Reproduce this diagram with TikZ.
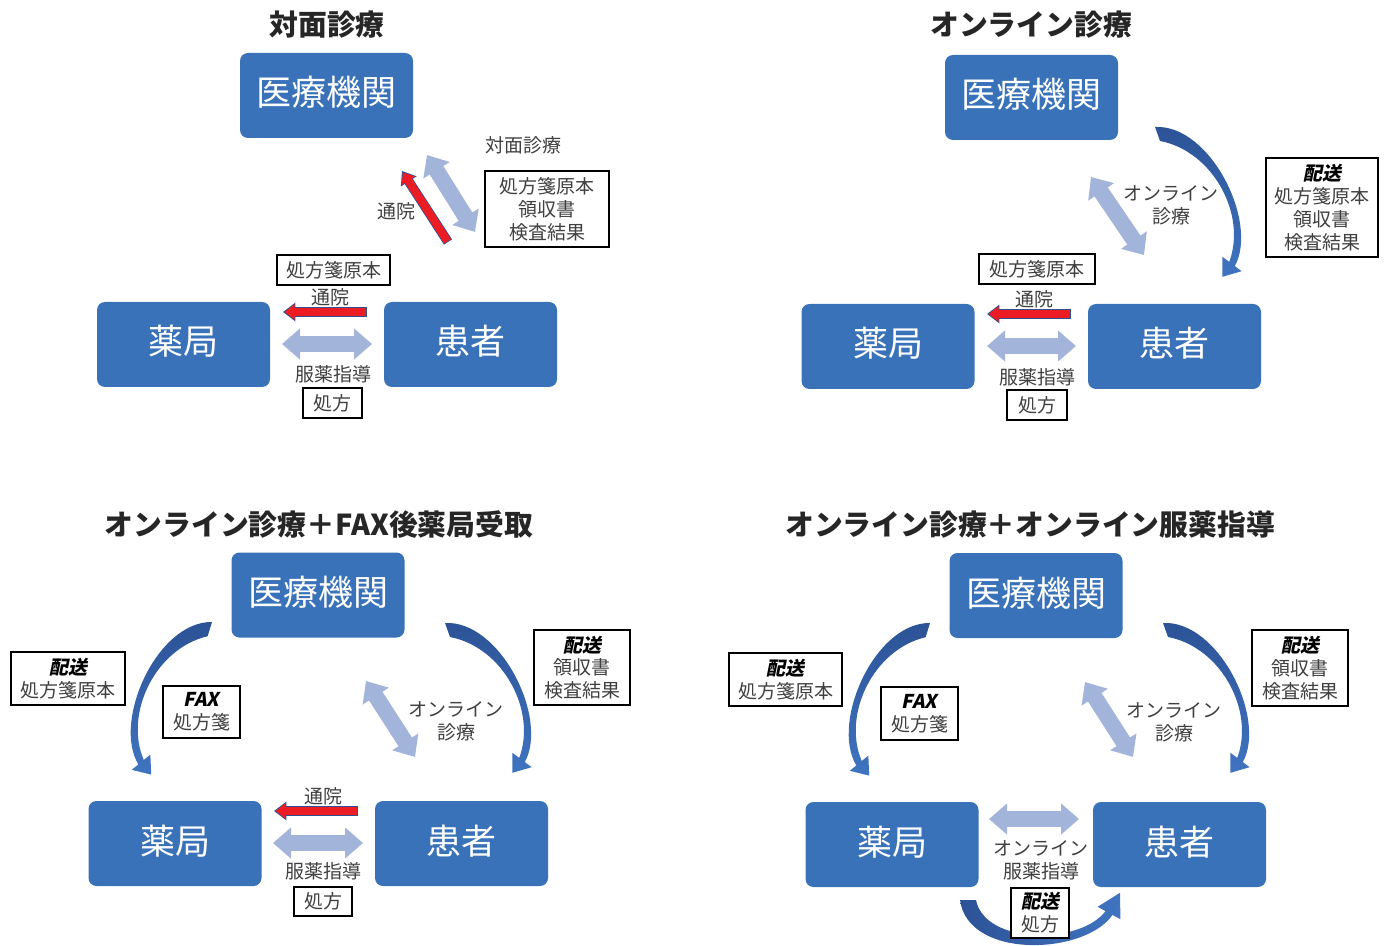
\documentclass[tikz,border=0pt]{standalone}
\usepackage{fontspec}
\setmainfont{Noto Sans CJK JP}
\newfontfamily\bslant{Noto Sans CJK JP}[FakeSlant=0.2]
\usetikzlibrary{arrows.meta}
\definecolor{mainblue}{RGB}{57,114,185}
\definecolor{lightblue}{RGB}{162,180,218}
\definecolor{redfill}{RGB}{236,28,36}
\definecolor{redline}{RGB}{47,82,143}
\definecolor{cdark}{RGB}{44,82,150}
\definecolor{clight}{RGB}{64,116,192}
\definecolor{titlegray}{RGB}{38,38,38}
\definecolor{labelgray}{RGB}{64,64,64}
\newcommand{\hs}{{\bslant\bfseries\color{black}配送}}
\newcommand{\fx}{{\bslant\bfseries\color{black}FAX}}
\tikzset{
  mainbox/.style={rectangle, rounded corners=4pt, fill=mainblue, text=white,
    font=\fontsize{17.5}{20}\selectfont, minimum width=86.5pt, minimum height=42.5pt, inner sep=0pt,
    text height=14pt, text depth=3.5pt},
  ttl/.style={font=\fontsize{14.4}{17}\selectfont\bfseries, text=titlegray, inner sep=0pt},
  lbl/.style={font=\fontsize{9.5}{11.5}\selectfont, text=labelgray, align=center, inner sep=0pt},
  tag/.style={draw=black, line width=0.7pt, fill=white, font=\fontsize{9.5}{11.4}\selectfont,
    text=labelgray, align=center, inner sep=0pt},
  lightarr/.style={draw=lightblue, line width=8pt,
    {Triangle[width=15pt,length=9pt]}-{Triangle[width=15pt,length=9pt]}},
  redo/.style={draw=redline, line width=4.8pt, -{Triangle[width=9pt,length=6.2pt]}},
  redi/.style={draw=redfill, line width=4pt, -{Triangle[width=7.5pt,length=5pt]}, shorten >=0.8pt, shorten <=0.4pt},
  curvarr/.pic={
    \shade[top color=cdark, bottom color=clight]
      (0,0) .. controls (55,-3) and (104,95) .. (79.8,139.1)
      -- (86.6,144.2) -- (67.4,149.8) -- (67.4,129.8) -- (74.2,134.9)
      .. controls (92,88) and (58,24) .. (5,14) -- cycle;
  }
}
\begin{document}
\begin{tikzpicture}[x=0.5pt,y=-0.5pt]
\useasboundingbox (0,0) rectangle (1386,946);
\fill[white] (0,0) rectangle (1386,946);

% ---------------- curved arrows (drawn first, behind) ----------------
\pic at (1155,127) {curvarr};
\pic[xscale=-1, rotate=-2.5] at (212,622) {curvarr};
\pic at (445,623) {curvarr};
\pic[xscale=-1, rotate=-2.5] at (930,623) {curvarr};
\pic at (1163,623) {curvarr};
\shade[left color=cdark, right color=clight]
  (960,900) .. controls (968,960) and (1085,955) .. (1112.5,914.9)
  -- (1120.4,919.2) -- (1120,892.8) -- (1097.6,906.8) -- (1105.5,911.1)
  .. controls (1080,945) and (985,945) .. (976,900) -- cycle;

% ================= Panel 1 : 対面診療 =================
\node[ttl] (t1) at (327,25) {対面診療};
\node[mainbox] (h1) at (326.5,95.5) {医療機関};
\node[mainbox] (p1) at (183.5,344.5) {薬局};
\node[mainbox] (k1) at (470.5,344.5) {患者};
\node[lbl] (l1a) at (523,145) {対面診療};
\node[tag, minimum width=62pt, minimum height=38pt] (b1a) at (547,209) {処方箋原本\\領収書\\検査結果};
\coordinate (d1a) at (427,155); \coordinate (d1b) at (475,232);
\draw[lightarr] (d1a) -- (d1b);
\coordinate (r1a) at (448,242); \coordinate (r1b) at (402,171);
\draw[redo] (r1a) -- (r1b); \draw[redi] (r1a) -- (r1b);
\node[lbl] (l1b) at (396,211) {通院};
\node[tag, minimum width=56.5pt, minimum height=15pt] (b1b) at (333.5,270) {処方箋原本};
\node[lbl] (l1c) at (330,297) {通院};
\coordinate (r1c) at (367,312); \coordinate (r1d) at (283,312);
\draw[redo] (r1c) -- (r1d); \draw[redi] (r1c) -- (r1d);
\coordinate (d1c) at (282,344); \coordinate (d1d) at (372,344);
\draw[lightarr] (d1c) -- (d1d);
\node[lbl] (l1d) at (333,374) {服薬指導};
\node[tag, minimum width=29.5pt, minimum height=15pt] (b1c) at (332.5,403) {処方};

% ================= Panel 2 : オンライン診療 =================
\node[ttl] (t2) at (1031,25) {オンライン診療};
\node[mainbox] (h2) at (1031.5,97.5) {医療機関};
\node[mainbox] (p2) at (888,346.5) {薬局};
\node[mainbox] (k2) at (1174.5,346.5) {患者};
\coordinate (d2a) at (1091,177); \coordinate (d2b) at (1144,255);
\draw[lightarr] (d2a) -- (d2b);
\node[lbl] (l2a) at (1171,205) {オンライン\\診療};
\node[tag, minimum width=56pt, minimum height=49.5pt] (b2a) at (1322,207.5) {\hs\\処方箋原本\\領収書\\検査結果};
\node[tag, minimum width=58pt, minimum height=15pt] (b2b) at (1037,269) {処方箋原本};
\node[lbl] (l2b) at (1034,299) {通院};
\coordinate (r2a) at (1071,314); \coordinate (r2b) at (987,314);
\draw[redo] (r2a) -- (r2b); \draw[redi] (r2a) -- (r2b);
\coordinate (d2c) at (987,346); \coordinate (d2d) at (1076,346);
\draw[lightarr] (d2c) -- (d2d);
\node[lbl] (l2c) at (1037,377) {服薬指導};
\node[tag, minimum width=30pt, minimum height=15pt] (b2c) at (1037,405) {処方};

% ================= Panel 3 : オンライン診療＋FAX後薬局受取 =================
\node[ttl] (t3) at (319,525) {オンライン診療＋FAX後薬局受取};
\node[mainbox] (h3) at (318,595) {医療機関};
\node[mainbox] (p3) at (175,843.5) {薬局};
\node[mainbox] (k3) at (461.5,843.5) {患者};
\node[tag, minimum width=57pt, minimum height=26.5pt] (b3a) at (68,678.5) {\hs\\処方箋原本};
\node[tag, minimum width=38.5pt, minimum height=26pt] (b3b) at (201.5,712) {\fx\\処方箋};
\coordinate (d3a) at (366,681); \coordinate (d3b) at (415,757);
\draw[lightarr] (d3a) -- (d3b);
\node[lbl] (l3a) at (456,721) {オンライン\\診療};
\node[tag, minimum width=48pt, minimum height=37.5pt] (b3c) at (582,667.5) {\hs\\領収書\\検査結果};
\node[lbl] (l3b) at (323,796) {通院};
\coordinate (r3a) at (358,811); \coordinate (r3b) at (274,811);
\draw[redo] (r3a) -- (r3b); \draw[redi] (r3a) -- (r3b);
\coordinate (d3c) at (273,843); \coordinate (d3d) at (363,843);
\draw[lightarr] (d3c) -- (d3d);
\node[lbl] (l3c) at (323,871) {服薬指導};
\node[tag, minimum width=29pt, minimum height=14.5pt] (b3d) at (323,901.5) {処方};

% ================= Panel 4 : オンライン診療＋オンライン服薬指導 =================
\node[ttl] (t4) at (1030,525) {オンライン診療＋オンライン服薬指導};
\node[mainbox] (h4) at (1036,595.5) {医療機関};
\node[mainbox] (p4) at (892,844.5) {薬局};
\node[mainbox] (k4) at (1179.5,844.5) {患者};
\node[tag, minimum width=56.5pt, minimum height=26.5pt] (b4a) at (785.5,679.5) {\hs\\処方箋原本};
\node[tag, minimum width=38.5pt, minimum height=26.5pt] (b4b) at (919.5,713.5) {\fx\\処方箋};
\coordinate (d4a) at (1085,682); \coordinate (d4b) at (1133,757);
\draw[lightarr] (d4a) -- (d4b);
\node[lbl] (l4a) at (1174,722) {オンライン\\診療};
\node[tag, minimum width=48pt, minimum height=38pt] (b4c) at (1300,668) {\hs\\領収書\\検査結果};
\coordinate (d4c) at (989,819); \coordinate (d4d) at (1079,819);
\draw[lightarr] (d4c) -- (d4d);
\node[lbl] (l4b) at (1041,860) {オンライン\\服薬指導};
\node[tag, minimum width=29pt, minimum height=25pt] (b4d) at (1040,913) {\hs\\処方};
\end{tikzpicture}
\end{document}
